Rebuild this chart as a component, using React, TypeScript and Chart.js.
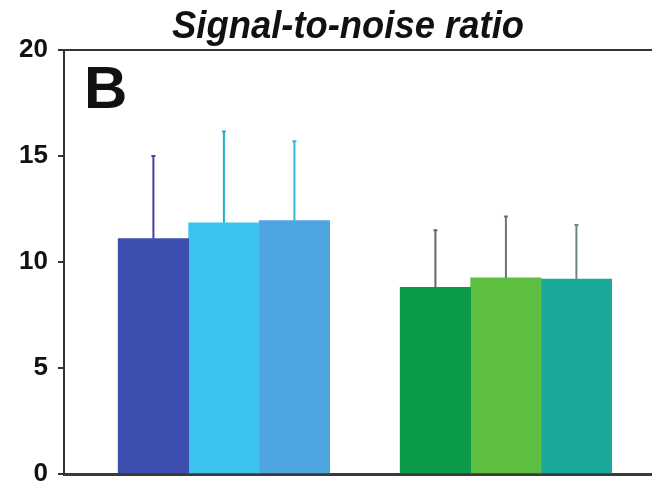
import React, { useEffect, useRef } from "react";
import { Chart, registerables } from "chart.js";

Chart.register(...registerables);

// ---- data ----
const chartTitle = "Signal-to-noise ratio";
const panelLabel = "B";
const groups = ["Group 1", "Group 2"];
const seriesNames = ["Condition 1", "Condition 2", "Condition 3"];
const series1 = [11.1, 8.8];
const series2 = [11.85, 9.25];
const series3 = [11.95, 9.2];
const error1 = [3.9, 2.7];
const error2 = [4.3, 2.9];
const error3 = [3.75, 2.55];
const yTicks = [0, 5, 10, 15, 20];

// ---- styles ----
const barColors = [
  ["#3d4fae", "#0b9a47"],
  ["#3ac3ee", "#5cbf42"],
  ["#4ea4df", "#1aa89b"],
];
const errorColors = [
  ["#4b3f9e", "#5f6a64"],
  ["#22b0c8", "#6a786c"],
  ["#2cbad6", "#6c8686"],
];

const allValues = [series1, series2, series3];
const allErrors = [error1, error2, error3];

const errorBarPlugin = {
  id: "errorBars",
  afterDatasetsDraw(chart: any) {
    const ctx = chart.ctx;
    const yScale = chart.scales.y;
    ctx.save();
    allValues.forEach((vals, i) => {
      const meta = chart.getDatasetMeta(i);
      meta.data.forEach((bar: any, j: number) => {
        const top = yScale.getPixelForValue(vals[j] + allErrors[i][j]);
        ctx.strokeStyle = errorColors[i][j];
        ctx.lineWidth = 2;
        ctx.beginPath();
        ctx.moveTo(bar.x, bar.y);
        ctx.lineTo(bar.x, top);
        ctx.moveTo(bar.x - 2, top);
        ctx.lineTo(bar.x + 2, top);
        ctx.stroke();
      });
    });
    ctx.restore();
  },
};

const textPlugin = {
  id: "panelText",
  afterDraw(chart: any) {
    const ctx = chart.ctx;
    ctx.save();
    ctx.fillStyle = "#111";
    ctx.font = "italic bold 38px 'Liberation Sans', Arial, sans-serif";
    ctx.textBaseline = "alphabetic";
    ctx.textAlign = "left";
    const w = ctx.measureText(chartTitle).width;
    const target = 352;
    const sx = target / w;
    ctx.translate(172, 38);
    ctx.scale(sx, 1);
    ctx.fillText(chartTitle, 0, 0);
    ctx.restore();
    ctx.save();
    ctx.fillStyle = "#111";
    ctx.font = "bold 60px 'Liberation Sans', Arial, sans-serif";
    ctx.textBaseline = "alphabetic";
    ctx.textAlign = "left";
    ctx.fillText(panelLabel, 84, 108);
    ctx.restore();
  },
};

export default function App() {
  const ref = useRef<HTMLCanvasElement | null>(null);
  useEffect(() => {
    document.body.style.margin = "0";
    if (!ref.current) return;
    const chart = new Chart(ref.current, {
      type: "bar",
      data: {
        datasets: allValues.map((vals, i) => ({
          label: seriesNames[i],
          data: groups.map((g, j) => ({ x: j, y: vals[j] })),
          backgroundColor: barColors[i],
          borderWidth: 0,
          barThickness: 70.5,
        })),
      },
      options: {
        animation: false,
        responsive: true,
        maintainAspectRatio: false,
        layout: { padding: { top: 50, left: 0, right: 0, bottom: 0 } },
        plugins: {
          legend: { display: false },
          title: { display: false },
          tooltip: { enabled: false },
        },
        scales: {
          x: {
            type: "linear",
            min: -0.567,
            max: 1.518,
            offset: false,
            afterFit: (s: any) => {
              s.height = 15;
            },
            ticks: { display: false },
            grid: { display: true, drawOnChartArea: false, drawTicks: false },
            border: { display: true, color: "#3a3a3a", width: 3 },
          },
          y: {
            min: 0,
            max: 20,
            afterFit: (s: any) => {
              s.width = 64;
              s.paddingTop = 0;
              s.paddingBottom = 0;
            },
            afterBuildTicks: (s: any) => {
              s.ticks = yTicks.map((v) => ({ value: v }));
            },
            ticks: {
              padding: 10,
              color: "#111",
              font: { family: "'Liberation Sans', Arial, sans-serif", size: 26, weight: "bold" },
            },
            grid: {
              drawOnChartArea: true,
              drawTicks: true,
              tickLength: 6,
              lineWidth: 2,
              tickColor: "#333",
              color: (c: any) => (c.tick && c.tick.value === 20 ? "#333" : "rgba(0,0,0,0)"),
            },
            border: { display: true, color: "#333", width: 2 },
          },
        },
      },
      plugins: [errorBarPlugin, textPlugin],
    });
    return () => chart.destroy();
  }, []);
  return (
    <div style={{ position: "relative", width: 652, height: 489, background: "#fff" }}>
      <canvas ref={ref} />
    </div>
  );
}
